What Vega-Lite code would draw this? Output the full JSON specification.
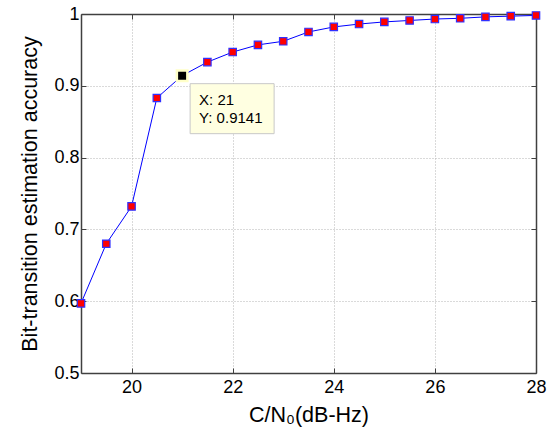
{
  "$schema": "https://vega.github.io/schema/vega-lite/v6.json",
  "autosize": {"type": "none"},
  "padding": {"left": 81, "top": 14, "right": 22, "bottom": 67},
  "width": 455,
  "height": 359,
  "background": "white",
  "config": {
    "view": {"stroke": null},
    "font": "Liberation Sans",
    "axis": {"labelFont": "Liberation Sans", "titleFont": "Liberation Sans", "labelColor": "black", "titleColor": "black", "titleFontWeight": "normal", "domainColor": "#404040", "tickColor": "#404040"}
  },
  "datasets": {
    "acc": [
      {"cn0": 19, "acc": 0.597},
      {"cn0": 19.5, "acc": 0.680},
      {"cn0": 20, "acc": 0.732},
      {"cn0": 20.5, "acc": 0.883},
      {"cn0": 21, "acc": 0.9141},
      {"cn0": 21.5, "acc": 0.933},
      {"cn0": 22, "acc": 0.947},
      {"cn0": 22.5, "acc": 0.957},
      {"cn0": 23, "acc": 0.962},
      {"cn0": 23.5, "acc": 0.975},
      {"cn0": 24, "acc": 0.982},
      {"cn0": 24.5, "acc": 0.986},
      {"cn0": 25, "acc": 0.989},
      {"cn0": 25.5, "acc": 0.991},
      {"cn0": 26, "acc": 0.993},
      {"cn0": 26.5, "acc": 0.994},
      {"cn0": 27, "acc": 0.996},
      {"cn0": 27.5, "acc": 0.997},
      {"cn0": 28, "acc": 0.998}
    ],
    "tip": [
      {"cn0": 21, "acc": 0.9141, "lx": "X: 21", "ly": "Y: 0.9141"}
    ]
  },
  "layer": [
    {
      "data": {"name": "acc"},
      "mark": {"type": "line", "color": "#0000FF", "strokeWidth": 1},
      "encoding": {
        "x": {"field": "cn0", "type": "quantitative", "scale": {"domain": [19, 28], "nice": false, "zero": false},
          "axis": {"orient": "bottom", "title": "C/N₀(dB-Hz)", "titleFontSize": 21.5, "titlePadding": 8, "labelFontSize": 18, "labelPadding": 10, "values": [20, 22, 24, 26, 28], "tickSize": -5, "grid": true, "gridColor": "#b4b4b4", "gridDash": [1, 2], "labelFlush": false, "domainWidth": 1.5}},
        "y": {"field": "acc", "type": "quantitative", "scale": {"domain": [0.5, 1], "nice": false, "zero": false},
          "axis": {"orient": "left", "title": "Bit-transition estimation accuracy", "titleFontSize": 21.5, "titlePadding": 12, "labelFontSize": 18, "labelPadding": 7, "values": [0.5, 0.6, 0.7, 0.8, 0.9, 1], "format": "~g", "tickSize": -5, "grid": true, "gridColor": "#b4b4b4", "gridDash": [1, 2], "labelFlush": false, "domainWidth": 1.5}}
      }
    },
    {
      "data": {"name": "acc"},
      "mark": {"type": "point", "shape": "square", "filled": true, "fill": "#FF0000", "stroke": "#3030FF", "strokeWidth": 1.2, "size": 55, "opacity": 1},
      "encoding": {
        "x": {"field": "cn0", "type": "quantitative",
          "axis": {"orient": "top", "labels": false, "title": null, "values": [20, 22, 24, 26, 28], "tickSize": -5, "grid": false, "domainWidth": 1.5}},
        "y": {"field": "acc", "type": "quantitative",
          "axis": {"orient": "right", "labels": false, "title": null, "values": [0.5, 0.6, 0.7, 0.8, 0.9, 1], "tickSize": -5, "grid": false, "domainWidth": 1.5}}
      }
    },
    {
      "data": {"name": "tip"},
      "mark": {"type": "rect", "fill": "#FFFFE1", "stroke": "#C8C8C8", "strokeWidth": 1, "xOffset": 8, "x2Offset": 92, "yOffset": 8, "y2Offset": 58},
      "encoding": {
        "x": {"field": "cn0", "type": "quantitative", "axis": null},
        "x2": {"field": "cn0"},
        "y": {"field": "acc", "type": "quantitative", "axis": null},
        "y2": {"field": "acc"}
      }
    },
    {
      "data": {"name": "tip"},
      "mark": {"type": "point", "shape": "square", "filled": true, "fill": "#000000", "stroke": "#FFFFC8", "strokeWidth": 2.5, "size": 110, "opacity": 1},
      "encoding": {
        "x": {"field": "cn0", "type": "quantitative", "axis": null},
        "y": {"field": "acc", "type": "quantitative", "axis": null}
      }
    },
    {
      "data": {"name": "tip"},
      "mark": {"type": "text", "align": "left", "baseline": "alphabetic", "dx": 17, "dy": 29, "fontSize": 15, "font": "Liberation Sans", "color": "black"},
      "encoding": {
        "x": {"field": "cn0", "type": "quantitative", "axis": null},
        "y": {"field": "acc", "type": "quantitative", "axis": null},
        "text": {"field": "lx"}
      }
    },
    {
      "data": {"name": "tip"},
      "mark": {"type": "text", "align": "left", "baseline": "alphabetic", "dx": 17, "dy": 47, "fontSize": 15, "font": "Liberation Sans", "color": "black"},
      "encoding": {
        "x": {"field": "cn0", "type": "quantitative", "axis": null},
        "y": {"field": "acc", "type": "quantitative", "axis": null},
        "text": {"field": "ly"}
      }
    }
  ],
  "resolve": {"axis": {"x": "independent", "y": "independent"}}
}
